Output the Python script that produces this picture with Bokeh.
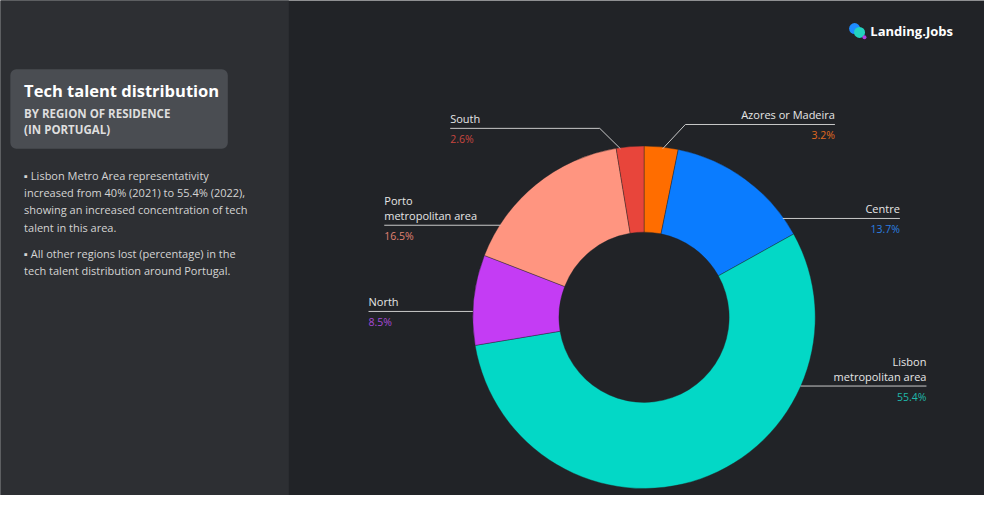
import numpy as np
from bokeh.plotting import figure
from bokeh.models import Range1d, BoxAnnotation
from bokeh.core.properties import value
from bokeh.embed import file_html
from bokeh.resources import INLINE

# ---------------- data ----------------
regions = ["Azores or Madeira", "Centre", "Lisbon metropolitan area", "North",
           "Porto metropolitan area", "South"]
shares = [3.2, 13.7, 55.4, 8.5, 16.5, 2.6]
colors = ["#ff6d00", "#0a7cff", "#03d8c6", "#c43cf4", "#ff9580", "#e8453b"]
value_colors = ["#e06a20", "#2b7fe0", "#1fb8aa", "#a64ad6", "#e08272", "#c9463f"]

title = "Tech talent distribution"
subtitle = ["BY REGION OF RESIDENCE", "(IN PORTUGAL)"]
bullets = [
    "\u25aa  Lisbon Metro Area representativity",
    "increased from 40% (2021) to 55.4% (2022),",
    "showing an increased concentration of tech",
    "talent in this area.",
    "\u25aa  All other regions lost (percentage) in the",
    "tech talent distribution around Portugal.",
]

# ---------------- layout ----------------
W, H = 1000, 511
def Y(ry):
    return H - ry

FONT = value("Open Sans")
BG_RIGHT = "#212327"
BG_LEFT = "#2d2f33"
BOX = "#4a4d52"

p = figure(width=984, height=495, x_range=Range1d(0, W), y_range=Range1d(0, H),
           output_backend="svg", toolbar_location=None, min_border=0)
p.axis.visible = False
p.grid.visible = False
p.outline_line_color = None
p.background_fill_color = BG_RIGHT
p.border_fill_color = BG_RIGHT

p.add_layout(BoxAnnotation(left=-10, right=293, bottom=-10, top=600, fill_color=BG_LEFT,
                           fill_alpha=1, line_color=None, level="underlay"))
p.add_layout(BoxAnnotation(left=10, right=231, bottom=Y(153), top=Y(71), fill_color=BOX,
                           fill_alpha=1, line_color=None, border_radius=6, level="underlay"))

# title block
p.text(x=[24], y=[Y(93)], text=[title], text_font=FONT, text_font_size="16.5px",
       text_font_style="bold", text_color="#ffffff", text_baseline="middle", text_align="left")
p.text(x=[24, 24], y=[Y(117), Y(133)], text=subtitle, text_font=FONT, text_font_size="11.5px",
       text_font_style="bold", text_color="#dedede", text_baseline="middle", text_align="left")
p.text(x=[24] * 6, y=[Y(181), Y(198), Y(216), Y(234), Y(261), Y(279)], text=bullets,
       text_font=FONT, text_font_size="11px", text_color="#d4d4d4",
       text_baseline="middle", text_align="left")

# logo
p.scatter(x=[868], y=[Y(29)], size=11, color="#1e8cff", line_color=None)
p.scatter(x=[873], y=[Y(33)], size=11, color="#22d3c0", line_color=None)
p.scatter(x=[878], y=[Y(38)], size=4, color="#b040e0", line_color=None)
p.text(x=[884], y=[Y(32)], text=["Landing.Jobs"], text_font=FONT, text_font_size="13px",
       text_font_style="bold", text_color="#ffffff", text_baseline="middle", text_align="left")

# donut
cx, cy = 654, Y(327)
r_out, r_in = 174, 86.5
frac = np.array(shares) / sum(shares)
cum = np.cumsum(frac)
starts = np.pi / 2 - 2 * np.pi * np.concatenate([[0], cum[:-1]])
ends = np.pi / 2 - 2 * np.pi * cum
p.annular_wedge(x=cx, y=cy, inner_radius=r_in, outer_radius=r_out,
                start_angle=starts, end_angle=ends, direction="clock",
                fill_color=colors, line_color=BG_RIGHT, line_width=0.4)

# leader lines (label layout)
LINE = "#c9c9c9"
leaders = [
    ([673, 696, 848], [153, 128, 128]),   # Azores
    ([795, 914], [225, 225]),             # Centre
    ([813, 941], [398, 398]),             # Lisbon
    ([480, 374], [321, 321]),             # North
    ([508, 390], [232, 232]),             # Porto
    ([630, 609, 457], [153, 132, 132]),   # South
]
p.multi_line(xs=[l[0] for l in leaders], ys=[[Y(v) for v in l[1]] for l in leaders],
             line_color=LINE, line_width=1)

# label texts
name_lines = [["Azores or Madeira"], ["Centre"], ["Lisbon", "metropolitan area"], ["North"],
              ["Porto", "metropolitan area"], ["South"]]
lab_x = [848, 914, 941, 374, 390, 457]
lab_align = ["right", "right", "right", "left", "left", "left"]
line_y = [128, 225, 398, 321, 232, 132]

tx, ty, tt, ta = [], [], [], []
vx, vy, vt, va, vc = [], [], [], [], []
for i in range(len(regions)):
    n = len(name_lines[i])
    for j, s in enumerate(name_lines[i]):
        tx.append(lab_x[i]); ta.append(lab_align[i]); tt.append(s)
        ty.append(Y(line_y[i] - 10 - 15.5 * (n - 1 - j)))
    vx.append(lab_x[i]); va.append(lab_align[i])
    vy.append(Y(line_y[i] + 11)); vt.append(f"{shares[i]}%"); vc.append(value_colors[i])

p.text(x=tx, y=ty, text=tt, text_align=ta, text_font=FONT, text_font_size="11px",
       text_color="#e6e6e6", text_baseline="middle")
p.text(x=vx, y=vy, text=vt, text_align=va, text_font=FONT, text_font_size="10.5px",
       text_color=vc, text_baseline="middle")

open("out.html", "w").write(file_html(p, INLINE))
